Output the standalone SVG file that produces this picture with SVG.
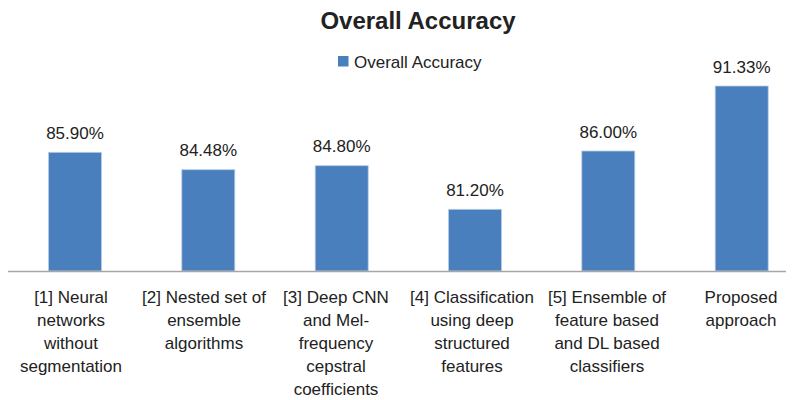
<svg xmlns="http://www.w3.org/2000/svg" width="794" height="400" viewBox="0 0 794 400">
<style>
text{font-family:"Liberation Sans",Arial,sans-serif;fill:#222;}
.title{font-size:24px;font-weight:bold;text-anchor:middle;}
.val{font-size:17px;text-anchor:middle;}
.cat{font-size:17px;text-anchor:middle;}
.leg{font-size:17px;}
.bar{fill:#4a7fbd;stroke:#b9cde6;stroke-width:0.8;}
.axis{stroke:#a6a6a6;stroke-width:1.6;fill:none;}
</style>
<rect width="794" height="400" fill="#fff"/>
<text class="title" x="418" y="28.5">Overall Accuracy</text>
<g id="legend">
<rect x="338" y="56" width="10.5" height="10.5" fill="#4a7fbd"/>
<text class="leg" x="354" y="68">Overall Accuracy</text>
</g>
<g id="bar1">
<rect class="bar" x="48.5" y="152.3" width="53" height="118.7"/>
<text class="val" x="75" y="139">85.90%</text>
<text class="cat" x="71" y="303">[1] Neural<tspan x="71" dy="23">networks</tspan><tspan x="71" dy="23">without</tspan><tspan x="71" dy="23">segmentation</tspan></text>
</g>
<g id="bar2">
<rect class="bar" x="181.8" y="169.7" width="53" height="101.3"/>
<text class="val" x="208.3" y="156.4">84.48%</text>
<text class="cat" x="204" y="303">[2] Nested set of<tspan x="204" dy="23">ensemble</tspan><tspan x="204" dy="23">algorithms</tspan></text>
</g>
<g id="bar3">
<rect class="bar" x="315.2" y="165.7" width="53" height="105.3"/>
<text class="val" x="341.7" y="152.4">84.80%</text>
<text class="cat" x="336" y="303">[3] Deep CNN<tspan x="336" dy="23">and Mel-</tspan><tspan x="336" dy="23">frequency</tspan><tspan x="336" dy="23">cepstral</tspan><tspan x="336" dy="23">coefficients</tspan></text>
</g>
<g id="bar4">
<rect class="bar" x="448.5" y="209.3" width="53" height="61.7"/>
<text class="val" x="475" y="196">81.20%</text>
<text class="cat" x="472" y="303">[4] Classification<tspan x="472" dy="23">using deep</tspan><tspan x="472" dy="23">structured</tspan><tspan x="472" dy="23">features</tspan></text>
</g>
<g id="bar5">
<rect class="bar" x="581.8" y="151" width="53" height="120"/>
<text class="val" x="608.3" y="137.7">86.00%</text>
<text class="cat" x="607" y="303">[5] Ensemble of<tspan x="607" dy="23">feature based</tspan><tspan x="607" dy="23">and DL based</tspan><tspan x="607" dy="23">classifiers</tspan></text>
</g>
<g id="bar6">
<rect class="bar" x="715.2" y="86" width="53" height="185"/>
<text class="val" x="741.7" y="72.7">91.33%</text>
<text class="cat" x="741" y="303">Proposed<tspan x="741" dy="23">approach</tspan></text>
</g>
<g id="connectors">
<line class="axis" x1="8" y1="271.5" x2="786" y2="271.5"/>
</g>
</svg>
